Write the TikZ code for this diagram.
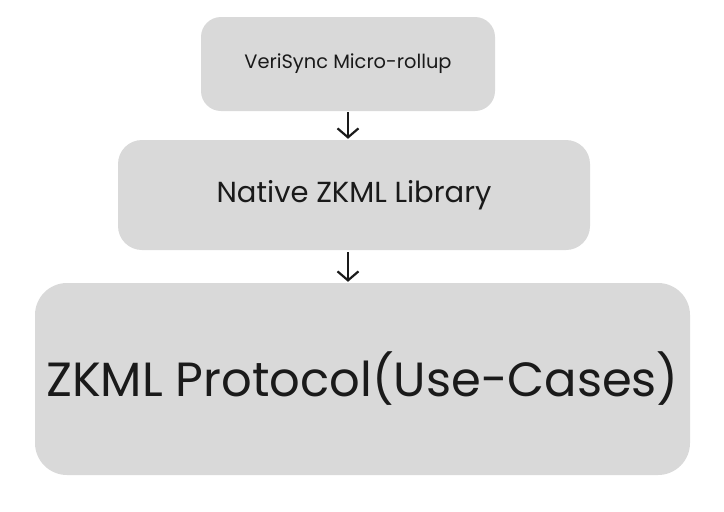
\documentclass[tikz,border=0pt]{standalone}
\usepackage{fontspec}
\setmainfont{Poppins}
\usetikzlibrary{arrows.meta}
\definecolor{boxgray}{HTML}{D9D9D9}
\definecolor{inkc}{HTML}{1A1A1A}
\begin{document}
\begin{tikzpicture}[x=1pt,y=-1pt,
  blockbox/.style={fill=boxgray, draw=none, inner sep=0pt, text=inkc, align=center},
  flowarrow/.style={draw=inkc, line width=2.2pt, -{Straight Barb[length=9pt,width=21pt,line width=2.2pt]}}]
\useasboundingbox (0,0) rectangle (724,512);
\node[blockbox, rounded corners=20pt, minimum width=294pt, minimum height=94pt, font=\fontsize{19.4}{22}\selectfont] (b1) at (348,64) {VeriSync Micro-rollup};
\node[blockbox, rounded corners=24pt, minimum width=472pt, minimum height=110pt, font=\fontsize{29}{33}\selectfont] (b2) at (354,195) {Native ZKML Library};
\node[blockbox, rounded corners=32pt, minimum width=655pt, minimum height=192pt, font=\fontsize{48}{56}\selectfont] (b3) at (362.5,379) {ZKML Protocol(Use-Cases)};
\draw[flowarrow, shorten <=1pt, shorten >=1pt] (b1.south) -- (b1.south |- b2.north);
\draw[flowarrow, shorten <=2pt, shorten >=1pt] (b1.south |- b2.south) -- (b1.south |- b3.north);
\end{tikzpicture}
\end{document}
